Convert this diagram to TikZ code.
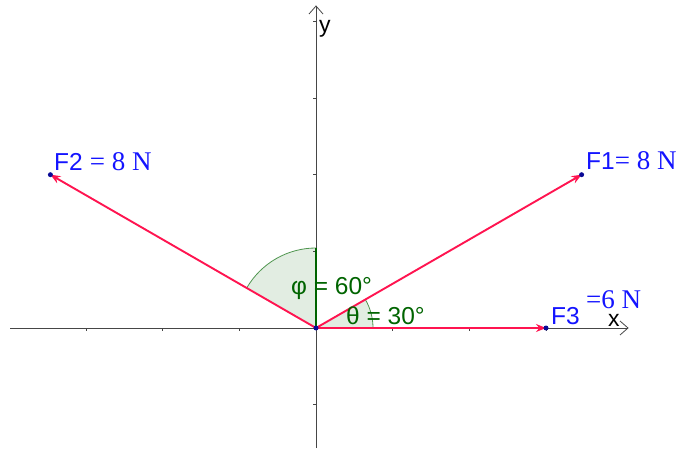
\documentclass[tikz,border=0pt]{standalone}
\usepackage{fontspec}
\setmainfont{Liberation Sans}
\newfontfamily\serifN{Liberation Serif}
\usetikzlibrary{arrows.meta}
\definecolor{vec}{RGB}{255,20,80}
\definecolor{grn}{RGB}{0,100,0}
\definecolor{arcg}{RGB}{80,150,80}
\definecolor{fillg}{RGB}{226,237,226}
\definecolor{dotc}{RGB}{10,10,150}
\definecolor{axc}{RGB}{70,70,70}
\definecolor{lblue}{RGB}{20,20,255}
\begin{document}
\begin{tikzpicture}[x=1pt,y=1pt,
  axis/.style={draw=axc,line width=0.8pt},
  vecline/.style={draw=vec,line width=1.9pt,-{Stealth[length=10pt,width=8pt]}},
  ptdot/.style={circle,fill=dotc,inner sep=0pt,minimum size=5pt},
  flabel/.style={anchor=base west,inner sep=0pt,text=lblue,font=\fontsize{24.5}{26}\selectfont},
  alabel/.style={anchor=base west,inner sep=0pt,text=grn,font=\fontsize{24.5}{26}\selectfont},
  axlabel/.style={anchor=base west,inner sep=0pt,text=black,font=\fontsize{23}{26}\selectfont},
  anglefill/.style={fill=fillg},
  anglearc/.style={draw=arcg,line width=0.8pt},
  angleleg/.style={draw=grn,line width=1.1pt}]
\useasboundingbox (0,0) rectangle (694,448);
\coordinate (O) at (316,120);
\coordinate (P1) at (581.6,273.3);
\coordinate (P2) at (50.4,273.3);
\coordinate (P3) at (546,120);
\coordinate (XL) at (10,120);
\coordinate (XR) at (628,120);
\coordinate (YB) at (316,0);
\coordinate (YT) at (316,442);
\coordinate (A1) at (316,200);
% angle fills
\fill[anglefill] (O) -- (A1) arc[start angle=90,end angle=150,radius=80] -- cycle;
\fill[anglefill] (O) -- ++(0:57) arc[start angle=0,end angle=30,radius=57] -- cycle;
% axes
\draw[axis] (XL) -- (XR);
\draw[axis] (YB) -- (YT);
\draw[axis] (XR) ++(-8,7) -- (XR) -- ++(-8,-7);
\draw[axis] (YT) ++(-7,-8) -- (YT) -- ++(7,-8);
\foreach \k in {-3,-2,-1,1,2,3}
  \draw[axis,line width=0.6pt] ([xshift=\k*76.67pt]O) -- ++(0,-3);
\foreach \k in {-1,1,2,3,4}
  \draw[axis,line width=0.6pt] ([yshift=\k*76.67pt]O) -- ++(-3,0);
% angle arcs
\draw[anglearc] (A1) arc[start angle=90,end angle=150,radius=80];
\draw[angleleg] (O) -- (A1);
\draw[anglearc] (O) ++(0:57) arc[start angle=0,end angle=30,radius=57];
% vectors
\draw[vecline] (O) -- (P1);
\draw[vecline] (O) -- (P2);
\draw[vecline] (O) -- (P3);
% points
\node[ptdot] (o) at (O) {};
\node[ptdot] (d1) at (P1) {};
\node[ptdot] (d2) at (P2) {};
\node[ptdot] (d3) at (P3) {};
% labels
\node[flabel] (l1) at (586,278) {F1{\serifN\fontsize{27}{28}\selectfont = 8 N}};
\node[flabel] (l2) at (54,277) {F2\hspace{7pt}{\serifN\fontsize{27}{28}\selectfont = 8 N}};
\node[flabel] (l3) at (551,124) {F3};
\node[flabel] (l3b) at (586,140) {{\serifN\fontsize{27}{28}\selectfont =6 N}};
\node[axlabel] (lx) at (608,122) {x};
\node[axlabel] (ly) at (319,415) {y};
\node[alabel] (lphi) at (291,154) {φ = 60°};
\node[alabel] (lth) at (346,124) {θ = 30°};
\end{tikzpicture}
\end{document}
